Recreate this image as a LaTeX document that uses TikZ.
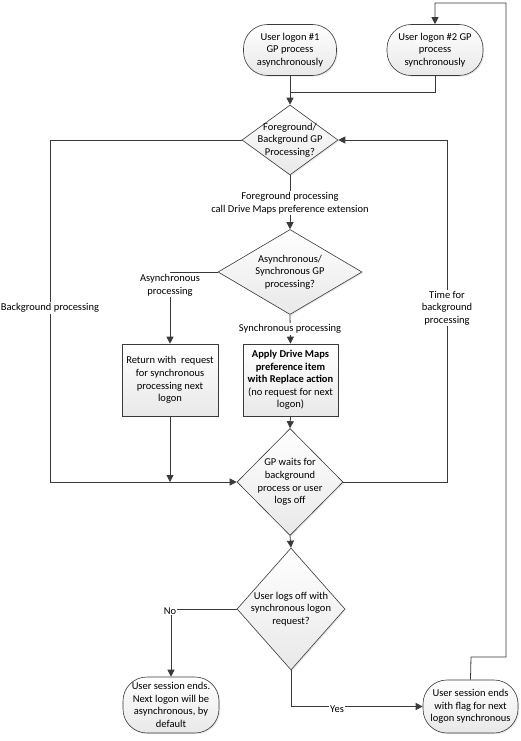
\documentclass[tikz,border=0pt]{standalone}
\usepackage{fontspec}
\setmainfont{Carlito}
\usetikzlibrary{shapes.geometric,arrows.meta,shadows}
\definecolor{linecol}{HTML}{3A3A3A}
\begin{document}
\begin{tikzpicture}[x=1pt,y=-1pt,
  font=\fontsize{10.5}{12.6}\selectfont,
  line/.style={draw=linecol, line width=0.8pt},
  arr/.style={line, -{Triangle[length=7pt,width=7pt]}},
  shadowed/.style={drop shadow={opacity=0.18, shadow xshift=1.2pt, shadow yshift=-1.2pt}},
  term/.style={draw=linecol, line width=0.6pt, rounded corners=24pt, top color=white, bottom color=gray!18,
    align=center, inner sep=0pt, shadowed},
  proc/.style={draw=linecol, line width=0.6pt, top color=white, bottom color=gray!18,
    align=center, inner sep=0pt, minimum width=96pt, minimum height=72pt, shadowed},
  dia/.style={shape=diamond, draw=linecol, line width=0.6pt, top color=white, bottom color=gray!18,
    inner sep=0pt, shadowed},
  lbl/.style={align=center, inner sep=0pt},
  edgelbl/.style={fill=white, align=center, inner sep=1pt}]
\useasboundingbox (0,0) rectangle (521,741);
\fill[white] (0,0) rectangle (521,741);

% terminals
\node[term, minimum width=93pt, minimum height=51pt] (l1) at (290,50) {User logon \#1\\GP process\\asynchronously};
\node[term, minimum width=96pt, minimum height=51pt] (l2) at (435,50) {User logon \#2 GP\\process\\synchronously};

% decisions
\node[dia, minimum width=96pt, minimum height=70pt,
  label={[lbl]center:{Foreground/\\Background GP\\Processing?}}] (d1) at (290,140) {};
\node[dia, minimum width=144pt, minimum height=85pt,
  label={[lbl]center:{Asynchronous/\\Synchronous GP\\processing?}}] (d2) at (290,272) {};

% processes
\node[proc] (b1) at (170,380) {Return with\ \ request\\for synchronous\\processing next\\logon};
\node[proc, minimum width=95pt] (b2) at (290.5,380) {\textbf{Apply Drive Maps}\\\textbf{preference item}\\\textbf{with Replace action}\\(no request for next\\logon)};

\node[dia, minimum width=106pt, minimum height=107pt,
  label={[lbl]center:{GP waits for\\background\\process or user\\logs off}}] (d3) at (290,482) {};
\node[dia, minimum width=108pt, minimum height=122pt,
  label={[lbl]center:{User logs off with\\synchronous logon\\request?}}] (d4) at (291,609) {};

% end terminals
\node[term, minimum width=96pt, minimum height=56pt] (e1) at (171,705) {User session ends.\\Next logon will be\\asynchronous, by\\default};
\node[term, minimum width=95pt, minimum height=53pt] (e2) at (470.5,706.5) {User session ends\\with flag for next\\logon synchronous};

% coordinates
\coordinate (j1) at (290,92);
\coordinate (bl1) at (50,140);
\coordinate (bl2) at (50,482);
\coordinate (tr1) at (447,482);
\coordinate (tr2) at (447,140);
\coordinate (lp1) at (471,657);
\coordinate (lp2) at (506,657);
\coordinate (lp3) at (506,3);
\coordinate (lp4) at (435,3);

% connectors
\draw[arr] (l1.south) -- (d1.north);
\draw[line] (l2.south) |- (j1);
\draw[arr] (d1.west) -- (bl1) -- (bl2) -- (d3.west);
\node[edgelbl] (lbg) at (50,308) {Background processing};
\draw[arr] (d3.east) -- (tr1) -- (tr2) -- (d1.east);
\node[edgelbl] (ltb) at (447,308) {Time for\\background\\processing};
\draw[arr] (d1.south) -- (d2.north);
\node[edgelbl] (lfg) at (290,203) {Foreground processing\\call Drive Maps preference extension};
\draw[arr] (d2.west) -| (b1.north);
\node[edgelbl] (las) at (170,285) {Asynchronous\\processing};
\draw[arr] (d2.south) -- (b2.north);
\node[edgelbl] (lsy) at (290,329) {Synchronous processing};
\draw[arr] (b2.south) -- (d3.north);
\draw[arr] (b1.south) -- (b1.south |- d3.west);
\draw[arr] (d3.south) -- (d4.north);
\draw[arr] (d4.west) -| (e1.north);
\node[edgelbl] (lno) at (170,611) {No};
\draw[arr] (d4.south) |- (e2.west);
\node[edgelbl] (lyes) at (337,709) {Yes};
\draw[arr] (e2.north) -- (lp1) -- (lp2) -- (lp3) -- (lp4) -- (l2.north);
\end{tikzpicture}
\end{document}
